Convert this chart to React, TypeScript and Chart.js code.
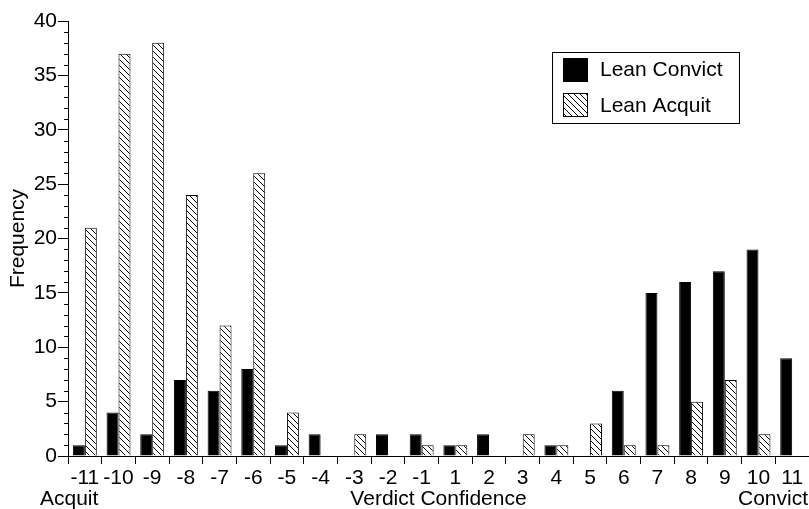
import React, { useEffect, useRef } from "react";
import { Chart, registerables } from "chart.js";

Chart.register(...registerables);

const categories = ["-11", "-10", "-9", "-8", "-7", "-6", "-5", "-4", "-3", "-2", "-1", "1", "2", "3", "4", "5", "6", "7", "8", "9", "10", "11"];
const leanConvict = [1, 4, 2, 7, 6, 8, 1, 2, 0, 2, 2, 1, 2, 0, 1, 0, 6, 15, 16, 17, 19, 9];
const leanAcquit = [21, 37, 38, 24, 12, 26, 4, 0, 2, 0, 1, 1, 0, 2, 1, 3, 1, 1, 5, 7, 2, 0];
const seriesNames = ["Lean Convict", "Lean Acquit"];
const yTitle = "Frequency";
const xTitle = "Verdict Confidence";
const leftCaption = "Acquit";
const rightCaption = "Convict";

const FONT = "'Liberation Sans', Arial, Helvetica, sans-serif";
const FS = 21;

function makeHatch(ctx: CanvasRenderingContext2D): CanvasPattern | string {
  const s = 6;
  const c = document.createElement("canvas");
  c.width = s;
  c.height = s;
  const g = c.getContext("2d");
  if (!g) return "#fff";
  g.fillStyle = "#fff";
  g.fillRect(0, 0, s, s);
  g.strokeStyle = "#000";
  g.lineWidth = 1;
  g.beginPath();
  g.moveTo(-1, -1);
  g.lineTo(s + 1, s + 1);
  g.moveTo(-1, s - 1);
  g.lineTo(1, s + 1);
  g.moveTo(s - 1, -1);
  g.lineTo(s + 1, 1);
  g.stroke();
  return ctx.createPattern(c, "repeat") || "#fff";
}

const extras = {
  id: "extras",
  afterDraw(chart: any) {
    const ctx: CanvasRenderingContext2D = chart.ctx;
    const y = chart.scales.y;
    const area = chart.chartArea;
    ctx.save();
    ctx.strokeStyle = "#000";
    ctx.lineWidth = 1;
    // minor ticks on y axis
    for (let v = 0; v <= 40; v++) {
      if (v % 5 === 0) continue;
      const py = Math.round(y.getPixelForValue(v)) + 0.5;
      ctx.beginPath();
      ctx.moveTo(area.left - 4, py);
      ctx.lineTo(area.left, py);
      ctx.stroke();
    }
    // bottom captions
    ctx.fillStyle = "#000";
    ctx.font = `${FS}px ${FONT}`;
    ctx.textBaseline = "alphabetic";
    ctx.textAlign = "left";
    ctx.fillText(leftCaption, 40, 505);
    ctx.textAlign = "center";
    ctx.fillText(xTitle, (area.left + area.right) / 2, 505);
    ctx.textAlign = "right";
    ctx.fillText(rightCaption, 808, 505);
    // legend
    ctx.strokeRect(552.5, 52.5, 187, 71);
    const ds = chart.data.datasets;
    const rows = [
      { sy: 58, ty: 76 },
      { sy: 93, ty: 112 },
    ];
    ds.forEach((d: any, i: number) => {
      const r = rows[i];
      ctx.fillStyle = d.backgroundColor;
      ctx.fillRect(563, r.sy, 25, 24);
      ctx.strokeStyle = "#000";
      ctx.strokeRect(563.5, r.sy + 0.5, 24, 23);
      ctx.fillStyle = "#000";
      ctx.textAlign = "left";
      ctx.fillText(d.label, 600, r.ty);
    });
    ctx.restore();
  },
};

export default function App() {
  const ref = useRef<HTMLCanvasElement>(null);
  useEffect(() => {
    document.body.style.margin = "0";
    const canvas = ref.current;
    if (!canvas) return;
    const ctx = canvas.getContext("2d");
    if (!ctx) return;
    const hatch = makeHatch(ctx);
    const chart = new Chart(canvas, {
      type: "bar",
      data: {
        labels: categories,
        datasets: [
          {
            label: seriesNames[0],
            data: leanConvict,
            backgroundColor: "#000",
            borderColor: "#000",
            borderWidth: 1,
            barPercentage: 1,
            categoryPercentage: 0.71,
          },
          {
            label: seriesNames[1],
            data: leanAcquit,
            backgroundColor: hatch as any,
            borderColor: "#000",
            borderWidth: 1,
            barPercentage: 1,
            categoryPercentage: 0.71,
          },
        ],
      },
      options: {
        responsive: false,
        animation: false,
        layout: { padding: { top: 21, right: 0, left: 0, bottom: 0 } },
        plugins: {
          legend: { display: false },
          tooltip: { enabled: false },
        },
        scales: {
          x: {
            type: "category",
            offset: true,
            grid: {
              offset: true,
              drawOnChartArea: false,
              drawTicks: true,
              tickLength: 8,
              color: "#000",
            },
            border: { display: true, color: "#000", width: 1 },
            ticks: {
              color: "#000",
              font: { family: FONT, size: FS },
              padding: 2,
              maxRotation: 0,
              autoSkip: false,
            },
            afterFit: (s: any) => {
              s.height = 53;
            },
          },
          y: {
            min: 0,
            max: 40,
            ticks: {
              stepSize: 5,
              color: "#000",
              font: { family: FONT, size: FS },
              padding: 1,
            },
            grid: {
              drawOnChartArea: false,
              drawTicks: true,
              tickLength: 10,
              color: "#000",
            },
            border: { display: true, color: "#000", width: 1 },
            title: {
              display: true,
              text: yTitle,
              color: "#000",
              font: { family: FONT, size: FS },
              padding: { top: 6, bottom: 0 },
            },
            afterFit: (s: any) => {
              s.width = 68;
            },
          },
        },
      },
      plugins: [extras],
    } as any);
    return () => chart.destroy();
  }, []);
  return (
    <div style={{ position: "fixed", left: 0, top: 0, width: 809, height: 509, background: "#fff" }}>
      <canvas ref={ref} width={809} height={509} style={{ width: 809, height: 509, display: "block" }} />
    </div>
  );
}
